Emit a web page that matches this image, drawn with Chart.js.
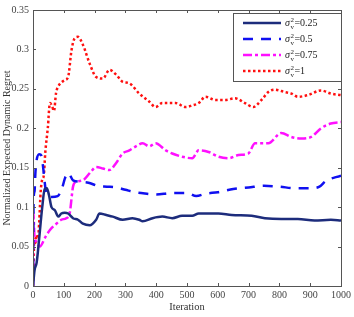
<!DOCTYPE html>
<html>
<head>
<meta charset="utf-8">
<script src="https://cdn.jsdelivr.net/npm/chart.js@4.4.1/dist/chart.umd.min.js"></script>
<style>
  html, body { margin: 0; padding: 0; background: #fff; }
  #wrap { width: 354px; height: 317px; }
</style>
</head>
<body>
<div id="wrap"><canvas id="regretChart" width="354" height="317"></canvas></div>
<script>
// Dados
const xTicks = [0, 100, 200, 300, 400, 500, 600, 700, 800, 900, 1000];
const yTicks = [0, 0.05, 0.1, 0.15, 0.2, 0.25, 0.3, 0.35];
const seriesNames = ['0.25', '0.5', '0.75', '1'];

const iter025 = [0, 5, 12, 20, 30, 38, 45, 52, 60, 71, 82, 92, 103, 114, 130, 146, 162, 184, 205, 216, 238, 259, 291, 323, 345, 356, 388, 420, 452, 484, 517, 538, 560, 602, 645, 710, 753, 806, 860, 914, 967, 1000];
const regret025 = [0, 0.02, 0.03, 0.06, 0.1, 0.123, 0.124, 0.115, 0.1, 0.096, 0.088, 0.092, 0.093, 0.092, 0.086, 0.084, 0.079, 0.077, 0.084, 0.092, 0.09, 0.088, 0.084, 0.086, 0.084, 0.082, 0.086, 0.088, 0.086, 0.089, 0.089, 0.092, 0.092, 0.092, 0.09, 0.089, 0.086, 0.085, 0.085, 0.083, 0.084, 0.083];

const iter05 = [0, 2, 5, 8, 12, 20, 28, 33, 40, 45, 60, 80, 95, 105, 115, 130, 160, 180, 210, 240, 270, 300, 330, 370, 400, 450, 500, 530, 560, 600, 650, 700, 750, 800, 850, 900, 930, 950, 1000];
const regret05 = [0, 0.11, 0.12, 0.145, 0.16, 0.167, 0.165, 0.15, 0.125, 0.115, 0.113, 0.114, 0.125, 0.138, 0.143, 0.134, 0.132, 0.131, 0.127, 0.126, 0.125, 0.122, 0.119, 0.117, 0.116, 0.118, 0.118, 0.114, 0.117, 0.119, 0.123, 0.125, 0.127, 0.126, 0.124, 0.124, 0.126, 0.133, 0.14];

const iter075 = [0, 1, 5, 12, 22, 40, 55, 76, 92, 108, 119, 130, 140, 162, 184, 205, 227, 248, 270, 291, 313, 334, 356, 377, 398, 431, 452, 484, 517, 538, 570, 602, 635, 667, 699, 721, 764, 806, 839, 871, 903, 935, 967, 1000];
const regret075 = [0, 0.094, 0.062, 0.056, 0.05, 0.062, 0.071, 0.079, 0.084, 0.086, 0.092, 0.126, 0.132, 0.134, 0.143, 0.151, 0.149, 0.147, 0.156, 0.168, 0.172, 0.177, 0.181, 0.177, 0.181, 0.172, 0.168, 0.164, 0.162, 0.172, 0.17, 0.164, 0.162, 0.166, 0.168, 0.181, 0.181, 0.194, 0.189, 0.187, 0.189, 0.2, 0.206, 0.208];

const iter1 = [0, 2, 4, 8, 12, 16, 20, 25, 30, 35, 40, 48, 55, 62, 68, 75, 82, 103, 114, 125, 135, 146, 162, 184, 205, 227, 248, 270, 291, 313, 345, 377, 398, 420, 463, 495, 517, 538, 560, 592, 624, 656, 688, 715, 742, 764, 785, 817, 839, 860, 892, 935, 967, 1000];
const regret1 = [0, 0.03, 0.06, 0.055, 0.065, 0.06, 0.08, 0.12, 0.135, 0.14, 0.17, 0.2, 0.232, 0.228, 0.222, 0.245, 0.253, 0.261, 0.265, 0.299, 0.314, 0.316, 0.306, 0.282, 0.265, 0.263, 0.274, 0.268, 0.259, 0.257, 0.244, 0.234, 0.227, 0.232, 0.232, 0.227, 0.229, 0.232, 0.24, 0.236, 0.236, 0.238, 0.232, 0.227, 0.236, 0.246, 0.249, 0.246, 0.244, 0.24, 0.242, 0.248, 0.244, 0.242];

const serif = "'Liberation Serif', 'DejaVu Serif', serif";

function toPoints(xs, ys) {
    return xs.map((x, i) => ({ x: x, y: ys[i] }));
}

const styles = [
    { color: '#1d2c7c', dash: [] },
    { color: '#1010f0', dash: [10, 8] },
    { color: '#ff10ff', dash: [9, 3, 3, 3] },
    { color: '#ff1010', dash: [2.5, 2.5] }
];

// Moldura e marcas internas (estilo MATLAB)
const framePlugin = {
    id: 'frame',
    afterDraw(chart) {
        const ctx = chart.ctx;
        const a = chart.chartArea;
        const xs = chart.scales.x;
        const ys = chart.scales.y;
        ctx.save();
        ctx.strokeStyle = '#555';
        ctx.lineWidth = 1;
        ctx.strokeRect(a.left + 0.5, a.top + 0.5, a.right - a.left, a.bottom - a.top);
        ctx.beginPath();
        xTicks.forEach(v => {
            const p = Math.round(xs.getPixelForValue(v)) + 0.5;
            ctx.moveTo(p, a.bottom); ctx.lineTo(p, a.bottom - 3);
            ctx.moveTo(p, a.top); ctx.lineTo(p, a.top + 3);
        });
        yTicks.forEach(v => {
            const p = Math.round(ys.getPixelForValue(v)) + 0.5;
            ctx.moveTo(a.left, p); ctx.lineTo(a.left + 3, p);
            ctx.moveTo(a.right, p); ctx.lineTo(a.right - 3, p);
        });
        ctx.stroke();
        ctx.restore();
    }
};

// Legenda com sigma^2_v
const legendPlugin = {
    id: 'sigmaLegend',
    afterDraw(chart) {
        const ctx = chart.ctx;
        const bx = 233, by = 13, bw = 108, bh = 68;
        ctx.save();
        ctx.fillStyle = '#fff';
        ctx.fillRect(bx, by, bw, bh);
        ctx.strokeStyle = '#555';
        ctx.lineWidth = 1;
        ctx.strokeRect(bx + 0.5, by + 0.5, bw, bh);
        seriesNames.forEach((name, i) => {
            const y = by + 10 + i * 16;
            ctx.strokeStyle = styles[i].color;
            ctx.lineWidth = 2.5;
            ctx.setLineDash(styles[i].dash);
            ctx.beginPath();
            ctx.moveTo(243, y);
            ctx.lineTo(281, y);
            ctx.stroke();
            ctx.setLineDash([]);
            ctx.fillStyle = '#222';
            ctx.textBaseline = 'alphabetic';
            ctx.font = 'italic 10px ' + serif;
            ctx.fillText('σ', 285, y + 3);
            const sw = ctx.measureText('σ').width;
            ctx.font = '7px ' + serif;
            ctx.fillText('2', 285 + sw + 0.5, y - 1);
            ctx.fillText('v', 285 + sw + 0.5, y + 6);
            ctx.font = '10px ' + serif;
            ctx.fillText('=' + name, 285 + sw + 4.5, y + 3);
        });
        ctx.restore();
    }
};

const datasets = [
    [iter025, regret025], [iter05, regret05], [iter075, regret075], [iter1, regret1]
].map((pair, i) => ({
    label: 'σ²v=' + seriesNames[i],
    data: toPoints(pair[0], pair[1]),
    borderColor: styles[i].color,
    borderDash: styles[i].dash,
    borderWidth: 2.5,
    pointRadius: 0,
    cubicInterpolationMode: 'monotone',
    fill: false
}));

const ctx = document.getElementById('regretChart').getContext('2d');
new Chart(ctx, {
    type: 'line',
    data: { datasets: datasets },
    options: {
        responsive: false,
        animation: false,
        layout: { padding: { top: 10, right: 11, left: 0, bottom: 0 } },
        plugins: {
            legend: { display: false },
            tooltip: { enabled: false }
        },
        scales: {
            x: {
                type: 'linear',
                min: 0,
                max: 1000,
                afterFit(scale) { scale.height = 31; },
                afterBuildTicks(scale) { scale.ticks = xTicks.map(v => ({ value: v })); },
                grid: { display: false, drawTicks: false },
                border: { display: false },
                ticks: { color: '#444', font: { family: serif, size: 10 }, padding: 3, maxRotation: 0, callback: v => String(v) },
                title: { display: true, text: 'Iteration', color: '#333', font: { family: serif, size: 10.5 }, padding: { top: 0, bottom: 3 } }
            },
            y: {
                min: 0,
                max: 0.35,
                afterFit(scale) { scale.width = 33; },
                afterBuildTicks(scale) { scale.ticks = yTicks.map(v => ({ value: v })); },
                grid: { display: false, drawTicks: false },
                border: { display: false },
                ticks: {
                    color: '#444',
                    font: { family: serif, size: 10 },
                    padding: 4,
                    callback: v => String(Number(v.toFixed(2)))
                },
                title: { display: true, text: 'Normalized Expected Dynamic Regret', color: '#333', font: { family: serif, size: 10 }, padding: { top: 1, bottom: 0 } }
            }
        }
    },
    plugins: [framePlugin, legendPlugin]
});
</script>
</body>
</html>
